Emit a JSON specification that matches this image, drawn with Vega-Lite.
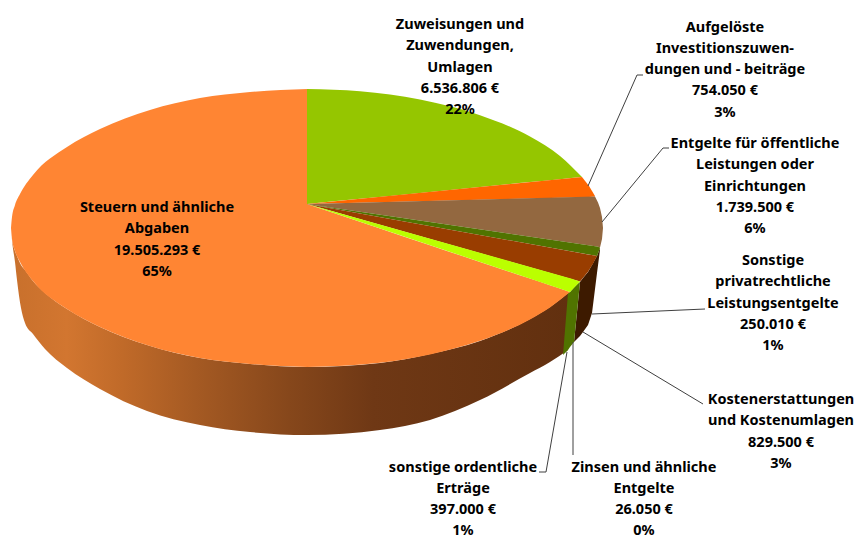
{"$schema":"https://vega.github.io/schema/vega-lite/v6.json","width":856,"height":537,"autosize":{"type":"none"},"padding":0,"background":"white","view":{"stroke":null},
"resolve":{"scale":{"color":"independent"}},
"layer":[
{"data":{"values":[{"x":11,"y":228,"y2":228},{"x":12,"y":239,"y2":240},{"x":15,"y":251,"y2":262},{"x":17,"y":256,"y2":280},{"x":21,"y":265,"y2":308},{"x":25,"y":270,"y2":323},{"x":33,"y":281,"y2":334},{"x":45,"y":293,"y2":349},{"x":67,"y":309,"y2":368},{"x":100,"y":327,"y2":389},{"x":147,"y":345,"y2":411},{"x":200,"y":358,"y2":425},{"x":250,"y":364,"y2":432},{"x":307,"y":367,"y2":435},{"x":380,"y":363,"y2":430},{"x":430,"y":354,"y2":420},{"x":480,"y":341,"y2":400},{"x":530,"y":319,"y2":373},{"x":550,"y":307,"y2":362},{"x":568,"y":293,"y2":350}]},
"mark":{"type":"area","interpolate":"monotone","color":{"x1":0,"y1":0,"x2":1,"y2":0,"gradient":"linear","stops":[{"offset":0,"color":"#C8702C"},{"offset":0.1,"color":"#D27630"},{"offset":0.2,"color":"#C06A29"},{"offset":0.33,"color":"#A55A23"},{"offset":0.5,"color":"#86471B"},{"offset":0.65,"color":"#6F3815"},{"offset":1,"color":"#62300F"}]}},
"encoding":{"x":{"field":"x","type":"quantitative","scale":{"domain":[0,856],"nice":false,"zero":false},"axis":null},"y":{"field":"y","type":"quantitative","scale":{"domain":[537,0],"nice":false,"zero":false},"axis":null},"y2":{"field":"y2"}}},
{"data":{"values":[{"part":"Sonstige privatrechtliche Leistungsentgelte","x":574,"y":342,"y2":342},{"part":"Sonstige privatrechtliche Leistungsentgelte","x":576,"y":322,"y2":340},{"part":"Sonstige privatrechtliche Leistungsentgelte","x":578,"y":302,"y2":338},{"part":"Sonstige privatrechtliche Leistungsentgelte","x":580,"y":282,"y2":336},{"part":"Sonstige privatrechtliche Leistungsentgelte","x":583,"y":278,"y2":332},{"part":"Sonstige privatrechtliche Leistungsentgelte","x":588,"y":272,"y2":325},{"part":"Sonstige privatrechtliche Leistungsentgelte","x":592,"y":265,"y2":313},{"part":"Sonstige privatrechtliche Leistungsentgelte","x":595,"y":259.6,"y2":289},{"part":"Sonstige privatrechtliche Leistungsentgelte","x":597,"y":256,"y2":273},{"part":"Sonstige privatrechtliche Leistungsentgelte","x":600,"y":248,"y2":250},{"part":"sonstige ordentliche Erträge","x":563,"y":355,"y2":355},{"part":"sonstige ordentliche Erträge","x":565,"y":330,"y2":353},{"part":"sonstige ordentliche Erträge","x":568,"y":293,"y2":350},{"part":"sonstige ordentliche Erträge","x":570,"y":292,"y2":347},{"part":"sonstige ordentliche Erträge","x":574,"y":287.5,"y2":342},{"part":"sonstige ordentliche Erträge","x":576,"y":285.5,"y2":322},{"part":"sonstige ordentliche Erträge","x":578,"y":283.5,"y2":302},{"part":"sonstige ordentliche Erträge","x":580,"y":282,"y2":282}]},
"mark":{"type":"area","interpolate":"linear"},
"encoding":{"x":{"field":"x","type":"quantitative"},"y":{"field":"y","type":"quantitative"},"y2":{"field":"y2"},"color":{"field":"part","type":"nominal","legend":null,"scale":{"domain":["Sonstige privatrechtliche Leistungsentgelte","sonstige ordentliche Erträge"],"range":["#3D1A00","#507300"]}}}},
{"data":{"values":[{"part":"Steuern links","x":11,"y":228,"y2":228},{"part":"Steuern links","x":12,"y":217,"y2":239},{"part":"Steuern links","x":15,"y":205,"y2":251},{"part":"Steuern links","x":20,"y":194,"y2":262},{"part":"Steuern links","x":33,"y":175,"y2":281},{"part":"Steuern links","x":67,"y":147,"y2":309},{"part":"Steuern links","x":100,"y":129,"y2":327},{"part":"Steuern links","x":150,"y":110,"y2":346},{"part":"Steuern links","x":200,"y":98,"y2":358},{"part":"Steuern links","x":250,"y":92,"y2":364},{"part":"Steuern links","x":307.5,"y":89,"y2":367},{"part":"Steuern rechts","x":307,"y":204,"y2":367},{"part":"Steuern rechts","x":380,"y":228.4,"y2":362.7},{"part":"Steuern rechts","x":430,"y":245.2,"y2":354.4},{"part":"Steuern rechts","x":480,"y":261.9,"y2":340.8},{"part":"Steuern rechts","x":530,"y":278.6,"y2":319.4},{"part":"Steuern rechts","x":550,"y":285.3,"y2":307.4},{"part":"Steuern rechts","x":570,"y":292,"y2":292},{"part":"Zuweisungen","x":307,"y":89,"y2":204},{"part":"Zuweisungen","x":360,"y":91.2,"y2":198.8},{"part":"Zuweisungen","x":420,"y":99.5,"y2":192.9},{"part":"Zuweisungen","x":480,"y":115.2,"y2":187},{"part":"Zuweisungen","x":530,"y":136.6,"y2":182.1},{"part":"Zuweisungen","x":560,"y":156,"y2":179.2},{"part":"Zuweisungen","x":582,"y":177,"y2":177}]},
"mark":{"type":"area","interpolate":"monotone"},
"encoding":{"x":{"field":"x","type":"quantitative"},"y":{"field":"y","type":"quantitative"},"y2":{"field":"y2"},"color":{"field":"part","type":"nominal","legend":null,"scale":{"domain":["Steuern links","Steuern rechts","Zuweisungen"],"range":["#FF8533","#FF8533","#95C600"]}}}},
{"data":{"values":[{"part":"Aufgelöste","x":307,"y":204,"y2":204},{"part":"Aufgelöste","x":582,"y":177,"y2":197.3},{"part":"Aufgelöste","x":589,"y":186,"y2":197.1},{"part":"Aufgelöste","x":595,"y":196,"y2":196.5},{"part":"Entgelte","x":307,"y":204,"y2":204},{"part":"Entgelte","x":595,"y":196.5,"y2":246.3},{"part":"Entgelte","x":598,"y":202.5,"y2":246.7},{"part":"Entgelte","x":600,"y":208,"y2":247.5},{"part":"Entgelte","x":602,"y":217,"y2":239},{"part":"Entgelte","x":603,"y":228,"y2":228},{"part":"Zinsen","x":307,"y":204,"y2":204},{"part":"Zinsen","x":597,"y":246.6,"y2":256},{"part":"Zinsen","x":600,"y":247.5,"y2":248},{"part":"Sonstige","x":307,"y":204,"y2":204},{"part":"Sonstige","x":580,"y":253,"y2":281.5},{"part":"Sonstige","x":588,"y":254.4,"y2":271.7},{"part":"Sonstige","x":593,"y":255.3,"y2":263.8},{"part":"Sonstige","x":597,"y":256,"y2":256},{"part":"Kosten","x":307,"y":204,"y2":204},{"part":"Kosten","x":570,"y":278.2,"y2":292},{"part":"Kosten","x":580,"y":281.5,"y2":281.5}]},
"mark":{"type":"area","interpolate":"linear"},
"encoding":{"x":{"field":"x","type":"quantitative"},"y":{"field":"y","type":"quantitative"},"y2":{"field":"y2"},"color":{"field":"part","type":"nominal","legend":null,"scale":{"domain":["Aufgelöste","Entgelte","Zinsen","Sonstige","Kosten"],"range":["#FF6600","#936840","#507300","#993D00","#BBFF00"]}}}},
{"data":{"values":[{"l":"a","o":1,"x":588,"y":186},{"l":"a","o":2,"x":637,"y":75},{"l":"a","o":3,"x":643,"y":75},{"l":"b","o":1,"x":602,"y":222},{"l":"b","o":2,"x":663,"y":148},{"l":"b","o":3,"x":669,"y":148},{"l":"c","o":1,"x":592,"y":314},{"l":"c","o":2,"x":705,"y":309},{"l":"d","o":1,"x":583,"y":332},{"l":"d","o":2,"x":703,"y":404},{"l":"e","o":1,"x":573,"y":342},{"l":"e","o":2,"x":573,"y":455},{"l":"f","o":1,"x":567,"y":352},{"l":"f","o":2,"x":546,"y":472},{"l":"f","o":3,"x":539,"y":472}]},
"mark":{"type":"line","color":"#404040","strokeWidth":1},
"encoding":{"x":{"field":"x","type":"quantitative"},"y":{"field":"y","type":"quantitative"},"detail":{"field":"l"},"order":{"field":"o"}}},
{"data":{"values":[{"t":"Steuern und ähnliche\nAbgaben\n19.505.293 €\n65%","x":157,"y":212},{"t":"Zuweisungen und\nZuwendungen,\nUmlagen\n6.536.806 €\n22%","x":460,"y":29},{"t":"Aufgelöste\nInvestitionszuwen-\ndungen und - beiträge\n754.050 €\n3%","x":725,"y":31.5},{"t":"Entgelte für öffentliche\nLeistungen oder\nEinrichtungen\n1.739.500 €\n6%","x":755,"y":148},{"t":"Sonstige\nprivatrechtliche\nLeistungsentgelte\n250.010 €\n1%","x":773,"y":265},{"t":"Kostenerstattungen\nund Kostenumlagen\n829.500 €\n3%","x":781,"y":404},{"t":"Zinsen und ähnliche\nEntgelte\n26.050 €\n0%","x":644,"y":471.5},{"t":"sonstige ordentliche\nErträge\n397.000 €\n1%","x":463,"y":471.5}]},
"mark":{"type":"text","font":"Noto Sans","fontWeight":"bold","fontSize":14.5,"color":"#000000","align":"center","baseline":"alphabetic","lineBreak":"\n","lineHeight":21.3},
"encoding":{"x":{"field":"x","type":"quantitative"},"y":{"field":"y","type":"quantitative"},"text":{"field":"t"}}}
]}
